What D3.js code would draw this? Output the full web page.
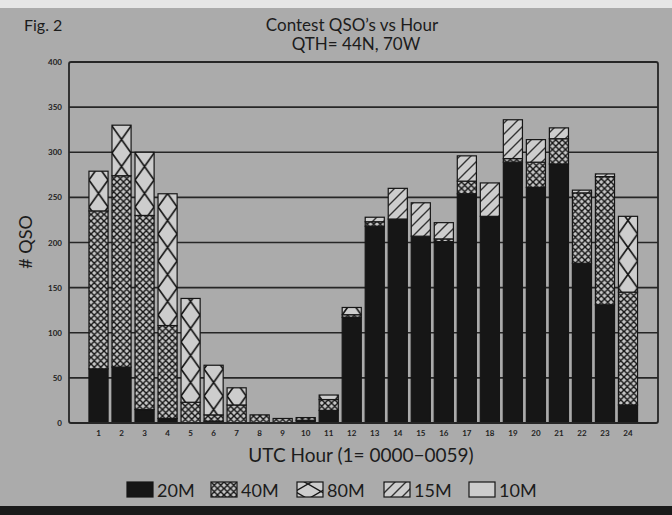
<!DOCTYPE html>
<html><head><meta charset="utf-8">
<script src="https://cdn.jsdelivr.net/npm/d3@7"></script>
<style>body{margin:0;background:#ababab}svg{display:block}</style>
</head><body>
<svg id="c" width="672" height="515"></svg>
<script>
const hours = ["1","2","3","4","5","6","7","8","9","10","11","12","13","14","15","16","17","18","19","20","21","22","23","24"];
const band20 = [60,62,15,5,0,2,0,0,0,3,14,117,218,226,207,201,254,229,289,261,287,177,131,20];
const band40 = [175,212,215,103,23,7,20,9,5,3,12,3,5,0,0,3,14,0,4,28,28,78,142,125];
const band80 = [44,56,70,146,115,55,19,0,0,0,5,8,0,0,0,0,0,0,0,0,0,0,0,84];
const band15 = [0,0,0,0,0,0,0,0,0,0,0,0,5,34,37,18,28,37,43,25,12,3,3,0];
const band10 = [0,0,0,0,0,0,0,0,0,0,0,0,0,0,0,0,0,0,0,0,0,0,0,0];
const seriesNames = ["20M","40M","80M","15M","10M"];
const yTicks = [0,50,100,150,200,250,300,350,400];

const svg = d3.select("#c");
const W = 672, H = 515;
const bg = "#ababab", light = "#cdcdcd", ink = "#161616";
const font = "Lato, 'DejaVu Sans', sans-serif";

svg.append("rect").attr("width",W).attr("height",H).attr("fill",bg);
svg.append("rect").attr("width",W).attr("height",8).attr("fill","#e6e6e6");
svg.append("rect").attr("y",506).attr("width",W).attr("height",9).attr("fill","#1a1a1a");

const plot = {l:69, r:658, t:62, b:423};
const x = d3.scaleBand().domain(hours).range([87,639.5]).paddingInner(0.17).paddingOuter(0.085);
const y = d3.scaleLinear().domain([0,400]).range([plot.b, plot.t]);

const rows = hours.map((h,i)=>({hour:h, "20M":band20[i], "40M":band40[i], "80M":band80[i], "15M":band15[i], "10M":band10[i]}));
const stack = d3.stack().keys(seriesNames)(rows);

const defs = svg.append("defs");
const s40 = 6.5;
const p40 = defs.append("pattern").attr("id","p40").attr("patternUnits","userSpaceOnUse").attr("width",s40).attr("height",s40);
p40.append("rect").attr("width",s40).attr("height",s40).attr("fill","#c6c6c6");
p40.append("path").attr("d",`M0,0L${s40},${s40}M${s40},0L0,${s40}M-1,${s40-1}L1,${s40+1}M${s40-1},-1L${s40+1},1M-1,1L1,-1M${s40-1},${s40+1}L${s40+1},${s40-1}`).attr("stroke",ink).attr("stroke-width",1.45);

const p15 = defs.append("pattern").attr("id","p15").attr("patternUnits","userSpaceOnUse").attr("width",11).attr("height",11);
p15.append("rect").attr("width",11).attr("height",11).attr("fill",light);
p15.append("path").attr("d","M0,11L11,0M-2,2L2,-2M9,13L13,9").attr("stroke","#333").attr("stroke-width",1.4);

const bw = x.bandwidth(), ch = 27;
hours.forEach((h,i)=>{
  const p = defs.append("pattern").attr("id","p80_"+i).attr("patternUnits","userSpaceOnUse")
    .attr("x",x(h)).attr("y",plot.b).attr("width",bw).attr("height",ch);
  p.append("rect").attr("width",bw).attr("height",ch).attr("fill",light);
  p.append("path").attr("d",`M0,0L${bw},${ch}M${bw},0L0,${ch}`).attr("stroke",ink).attr("stroke-width",1.6);
});

const fillFor = (key,i)=> key==="20M" ? ink : key==="40M" ? "url(#p40)" : key==="80M" ? `url(#p80_${i})` : key==="15M" ? "url(#p15)" : light;

svg.append("g").selectAll("line").data(yTicks.filter(t=>t>0 && t<400)).join("line")
  .attr("x1",plot.l).attr("x2",plot.r).attr("y1",d=>y(d)).attr("y2",d=>y(d))
  .attr("stroke","#262626").attr("stroke-width",1.6);

const g = svg.append("g");
stack.forEach(s=>{
  g.append("g").selectAll("rect").data(s).join("rect")
    .attr("x",(d,i)=>x(hours[i])).attr("width",bw)
    .attr("y",d=>y(d[1])).attr("height",d=>Math.max(0,y(d[0])-y(d[1])))
    .attr("fill",(d,i)=>fillFor(s.key,i))
    .attr("stroke",ink).attr("stroke-width",1.2)
    .attr("display",d=>(d[1]-d[0])>0?null:"none");
});

svg.append("rect").attr("x",plot.l).attr("y",plot.t).attr("width",plot.r-plot.l).attr("height",plot.b-plot.t)
  .attr("fill","none").attr("stroke","#262626").attr("stroke-width",1.8).attr("rx",2);

const yAxis = d3.axisLeft(y).tickValues(yTicks).tickSize(0).tickPadding(7);
const ya = svg.append("g").attr("transform",`translate(${plot.l},0)`).call(yAxis);
ya.select(".domain").remove();
ya.selectAll("text").attr("font-family",font).attr("font-size",8).attr("font-weight","bold").attr("fill","#222");

const xAxis = d3.axisBottom(x).tickSize(0).tickPadding(7);
const xa = svg.append("g").attr("transform",`translate(0,${plot.b})`).call(xAxis);
xa.select(".domain").remove();
xa.selectAll("text").attr("font-family",font).attr("font-size",8).attr("font-weight","bold").attr("fill","#222");

const txt = (t,x0,y0,size,anchor="middle",extra={})=>{
  const e = svg.append("text").attr("x",x0).attr("y",y0).attr("font-family",font).attr("font-size",size)
    .attr("text-anchor",anchor).attr("fill","#1c1c1c").text(t);
  Object.entries(extra).forEach(([k,v])=>e.attr(k,v));
  return e;
};
txt("Fig. 2",24,31,16,"start");
txt("Contest QSO\u2019s vs Hour",352,31,17);
txt("QTH= 44N, 70W",356,50,17);
txt("# QSO",0,0,18,"middle",{transform:"translate(32,242) rotate(-90)"});
txt("UTC Hour (1= 0000\u22120059)",361,462,19);

const legX = [127,211,297,384,469];
const lg = svg.append("g").selectAll("g").data(seriesNames).join("g")
  .attr("transform",(d,i)=>`translate(${legX[i]},482)`);
const legPat = defs.append("pattern").attr("id","p80L").attr("patternUnits","userSpaceOnUse").attr("x",297).attr("y",482).attr("width",26).attr("height",15);
legPat.append("rect").attr("width",26).attr("height",15).attr("fill",light);
legPat.append("path").attr("d","M0,0L26,15M26,0L0,15").attr("stroke",ink).attr("stroke-width",1.4);
lg.append("rect").attr("width",26).attr("height",15)
  .attr("fill",d=>d==="20M"?ink:d==="40M"?"url(#p40)":d==="80M"?"url(#p80L)":d==="15M"?"url(#p15)":light)
  .attr("stroke",ink).attr("stroke-width",1.2);
lg.append("text").attr("x",30).attr("y",15).attr("font-family",font).attr("font-size",18).attr("fill","#1c1c1c").text(d=>d);
</script>
</body></html>
